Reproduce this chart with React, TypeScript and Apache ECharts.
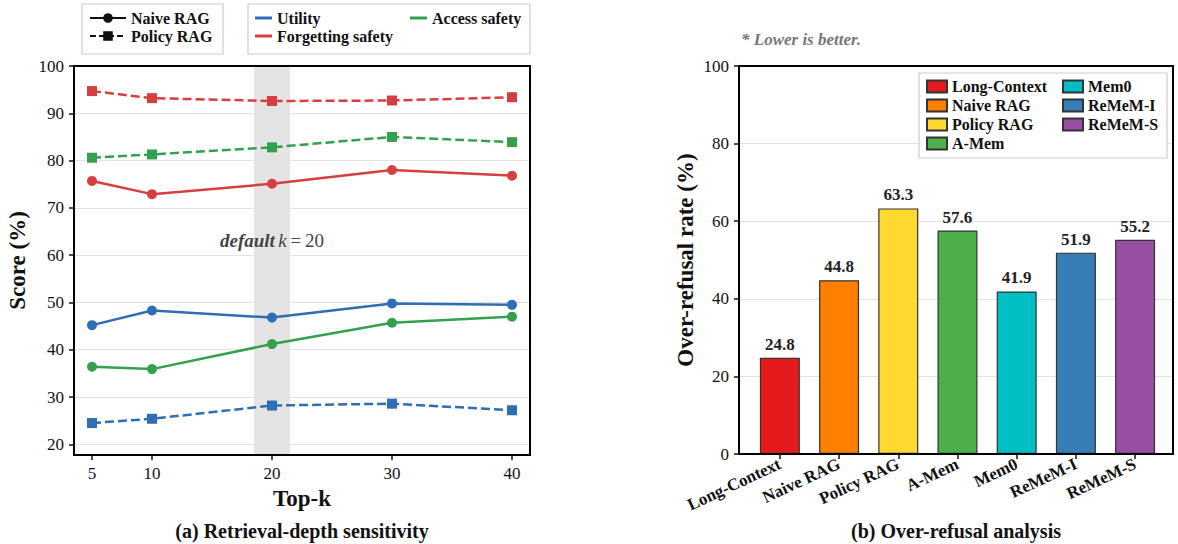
import React, { useEffect, useRef } from 'react';
import * as echarts from 'echarts';

// ---------- Data ----------
const topK = [5, 10, 20, 30, 40];
const naiveUtility = [45.2, 48.3, 46.8, 49.8, 49.5];
const naiveForgetting = [75.7, 72.9, 75.1, 78.0, 76.8];
const naiveAccess = [36.4, 35.9, 41.2, 45.7, 47.0];
const policyUtility = [24.5, 25.4, 28.2, 28.6, 27.2];
const policyForgetting = [94.7, 93.2, 92.6, 92.7, 93.4];
const policyAccess = [80.6, 81.3, 82.8, 85.0, 83.9];
const leftYTicks = [20, 30, 40, 50, 60, 70, 80, 90, 100];
const defaultK = 20;

const methods = ['Long-Context', 'Naive RAG', 'Policy RAG', 'A-Mem', 'Mem0', 'ReMeM-I', 'ReMeM-S'];
const overRefusal = [24.8, 44.8, 63.3, 57.6, 41.9, 51.9, 55.2];
const methodIdx = [0, 1, 2, 3, 4, 5, 6];

// ---------- Styles ----------
const FONT = '"Liberation Serif", "DejaVu Serif", "Times New Roman", serif';
const BLUE = '#2f6db4';
const RED = '#d63f3f';
const GREEN = '#33a04e';
const methodColors = ['#e41a1c', '#ff7f00', '#ffd92f', '#4daf4a', '#00bfc4', '#377eb8', '#984ea3'];

const mkLine = (name: string, vals: number[], color: string, policy: boolean) => ({
  type: 'line',
  name,
  xAxisIndex: 0,
  yAxisIndex: 0,
  data: topK.map((k, i) => [k, vals[i]]),
  symbol: policy ? 'rect' : 'circle',
  symbolSize: 10,
  lineStyle: { width: 2.5, color, type: policy ? [9, 4] : 'solid' },
  itemStyle: { color },
  z: 3,
});

export default function App() {
  const ref = useRef<HTMLDivElement>(null);

  useEffect(() => {
    if (!ref.current) return;
    const chart = echarts.init(ref.current, null, { renderer: 'svg' });

    const lineSeries: any[] = [
      mkLine('n-util', naiveUtility, BLUE, false),
      mkLine('n-forget', naiveForgetting, RED, false),
      mkLine('n-access', naiveAccess, GREEN, false),
      mkLine('p-util', policyUtility, BLUE, true),
      mkLine('p-forget', policyForgetting, RED, true),
      mkLine('p-access', policyAccess, GREEN, true),
    ];
    // band + annotation
    lineSeries[0].markArea = {
      silent: true,
      itemStyle: { color: '#e4e4e4' },
      data: [[{ xAxis: defaultK - 1.5 }, { xAxis: defaultK + 1.5 }]],
    };
    lineSeries[0].markPoint = {
      silent: true,
      symbol: 'circle',
      symbolSize: 0,
      data: [{ coord: [defaultK, 63.2] }],
      label: {
        show: true,
        position: 'inside',
        formatter: '{a|default} {b|k}{c|\u2009=\u200920}',
        rich: {
          a: { fontFamily: FONT, fontStyle: 'italic', fontWeight: 'bold', fontSize: 19, color: '#444' },
          b: { fontFamily: FONT, fontStyle: 'italic', fontSize: 19, color: '#444' },
          c: { fontFamily: FONT, fontSize: 19, color: '#444' },
        },
      },
    };

    const dummySeries: any[] = [
      { type: 'line', name: 'Naive RAG', data: [], xAxisIndex: 0, yAxisIndex: 0, symbol: 'circle', symbolSize: 10, itemStyle: { color: '#111' }, lineStyle: { color: '#111', width: 3 } },
      { type: 'line', name: 'Policy RAG', data: [], xAxisIndex: 0, yAxisIndex: 0, symbol: 'rect', symbolSize: 10, itemStyle: { color: '#111' }, lineStyle: { color: '#111', width: 3, type: [6, 3] } },
      { type: 'line', name: 'Utility', data: [], xAxisIndex: 0, yAxisIndex: 0, itemStyle: { color: BLUE }, lineStyle: { color: BLUE } },
      { type: 'line', name: 'Forgetting safety', data: [], xAxisIndex: 0, yAxisIndex: 0, itemStyle: { color: RED }, lineStyle: { color: RED } },
      { type: 'line', name: 'Access safety', data: [], xAxisIndex: 0, yAxisIndex: 0, itemStyle: { color: GREEN }, lineStyle: { color: GREEN } },
    ];

    const barSeries: any[] = methods.map((m, i) => ({
      type: 'bar',
      name: 'b:' + m,
      xAxisIndex: 1,
      yAxisIndex: 1,
      barWidth: 40,
      barGap: '-100%',
      data: [[methodIdx[i], overRefusal[i]]],
      itemStyle: { color: methodColors[i], borderColor: '#333', borderWidth: 1.2 },
      label: {
        show: true,
        position: 'top',
        distance: 5,
        fontFamily: FONT,
        fontWeight: 'bold',
        fontSize: 17,
        color: '#222',
        formatter: (p: any) => Number(p.value[1]).toFixed(1),
      },
    }));

    const legendText = { fontFamily: FONT, fontWeight: 'bold', fontSize: 16, lineHeight: 16, color: '#111' };
    const legendTextR = { ...legendText, lineHeight: 17 };

    const option: any = {
      animation: false,
      backgroundColor: '#fff',
      grid: [
        { left: 74, top: 66, width: 456, height: 389 },
        { left: 739, top: 66, width: 434, height: 388 },
      ],
      xAxis: [
        {
          type: 'value',
          gridIndex: 0,
          min: 3.5,
          max: 41.5,
          name: 'Top-k',
          nameLocation: 'middle',
          nameGap: 31,
          nameTextStyle: { fontFamily: FONT, fontWeight: 'bold', fontSize: 23, color: '#111' },
          axisLine: { show: false, onZero: false },
          axisTick: { show: true, length: 5, customValues: topK, lineStyle: { color: '#111', width: 1.5 } },
          axisLabel: { customValues: topK, fontFamily: FONT, fontSize: 17, color: '#111', margin: 10 },
          splitLine: { show: false },
        },
        {
          type: 'value',
          gridIndex: 1,
          min: -0.69,
          max: 6.64,
          axisLine: { show: false, onZero: false },
          axisTick: { show: true, length: 5, customValues: methodIdx, lineStyle: { color: '#111', width: 1.5 } },
          axisLabel: {
            customValues: methodIdx,
            formatter: (v: number) => methods[Math.round(v)] ?? '',
            rotate: 25,
            margin: 9,
            fontFamily: FONT,
            fontWeight: 'bold',
            fontSize: 17,
            color: '#111',
          },
          splitLine: { show: false },
        },
      ],
      yAxis: [
        {
          type: 'value',
          gridIndex: 0,
          min: 17.74,
          max: 100,
          splitNumber: 8,
          name: 'Score (%)',
          nameLocation: 'middle',
          nameGap: 45,
          nameTextStyle: { fontFamily: FONT, fontWeight: 'bold', fontSize: 23, color: '#111' },
          axisLine: { show: false, onZero: false },
          axisTick: { show: true, length: 5, customValues: leftYTicks, lineStyle: { color: '#111', width: 1.5 } },
          axisLabel: { customValues: leftYTicks, fontFamily: FONT, fontSize: 17, color: '#111', margin: 10 },
          splitLine: { show: true, lineStyle: { color: '#e2e2e2', width: 1 } },
        },
        {
          type: 'value',
          gridIndex: 1,
          min: 0,
          max: 100,
          interval: 20,
          name: 'Over-refusal rate (%)',
          nameLocation: 'middle',
          nameGap: 42,
          nameTextStyle: { fontFamily: FONT, fontWeight: 'bold', fontSize: 23, color: '#111' },
          axisLine: { show: false, onZero: false },
          axisTick: { show: true, length: 5, lineStyle: { color: '#111', width: 1.5 } },
          axisLabel: { fontFamily: FONT, fontSize: 17, color: '#111', margin: 10 },
          splitLine: { show: true, lineStyle: { color: '#e2e2e2', width: 1 } },
        },
      ],
      legend: [
        {
          left: 89, top: 10, orient: 'vertical', padding: 0, itemGap: 2,
          itemWidth: 36, itemHeight: 12, selectedMode: false,
          data: ['Naive RAG', 'Policy RAG'], textStyle: legendText,
        },
        {
          left: 255, top: 10, orient: 'vertical', padding: 0, itemGap: 2,
          icon: 'rect', itemWidth: 17, itemHeight: 3, selectedMode: false,
          data: ['Utility', 'Forgetting safety'], textStyle: legendText,
        },
        {
          left: 410, top: 10, orient: 'vertical', padding: 0, itemGap: 2,
          icon: 'rect', itemWidth: 17, itemHeight: 3, selectedMode: false,
          data: ['Access safety'], textStyle: legendText,
        },
        {
          left: 926, top: 78, orient: 'vertical', padding: 0, itemGap: 2,
          icon: 'rect', itemWidth: 20, itemHeight: 12, selectedMode: false,
          data: methods.slice(0, 4).map((m) => 'b:' + m), textStyle: legendTextR,
          formatter: (n: string) => n.slice(2),
        },
        {
          left: 1062, top: 78, orient: 'vertical', padding: 0, itemGap: 2,
          icon: 'rect', itemWidth: 20, itemHeight: 12, selectedMode: false,
          data: methods.slice(4).map((m) => 'b:' + m), textStyle: legendTextR,
          formatter: (n: string) => n.slice(2),
        },
      ],
      graphic: [
        { type: 'rect', z: 1, shape: { x: 82, y: 4, width: 141, height: 50 }, style: { fill: '#fff', stroke: '#cccccc', lineWidth: 1.2 } },
        { type: 'rect', z: 1, shape: { x: 248, y: 4, width: 282, height: 50 }, style: { fill: '#fff', stroke: '#cccccc', lineWidth: 1.2 } },
        { type: 'rect', z: 3, shape: { x: 919, y: 73, width: 248, height: 85 }, style: { fill: '#fff', stroke: '#cccccc', lineWidth: 1.2 } },
        { type: 'rect', z: 20, shape: { x: 74, y: 66, width: 456, height: 389 }, style: { fill: 'none', stroke: '#000', lineWidth: 2 } },
        { type: 'rect', z: 20, shape: { x: 739, y: 66, width: 434, height: 388 }, style: { fill: 'none', stroke: '#000', lineWidth: 2 } },
        {
          type: 'text', z: 20, x: 302, y: 531,
          style: { text: '(a) Retrieval-depth sensitivity', fontFamily: FONT, fontWeight: 'bold', fontSize: 20, fill: '#111', textAlign: 'center', textVerticalAlign: 'middle' },
        },
        {
          type: 'text', z: 20, x: 956, y: 531,
          style: { text: '(b) Over-refusal analysis', fontFamily: FONT, fontWeight: 'bold', fontSize: 20, fill: '#111', textAlign: 'center', textVerticalAlign: 'middle' },
        },
        {
          type: 'text', z: 20, x: 741, y: 39,
          style: { text: '* Lower is better.', fontFamily: FONT, fontWeight: 'bold', fontStyle: 'italic', fontSize: 17, fill: '#777', textAlign: 'left', textVerticalAlign: 'middle' },
        },
      ],
      series: [...dummySeries, ...lineSeries, ...barSeries],
    };

    chart.setOption(option);
    return () => chart.dispose();
  }, []);

  return <div ref={ref} style={{ position: 'absolute', left: 0, top: 0, width: 1178, height: 544 }} />;
}
